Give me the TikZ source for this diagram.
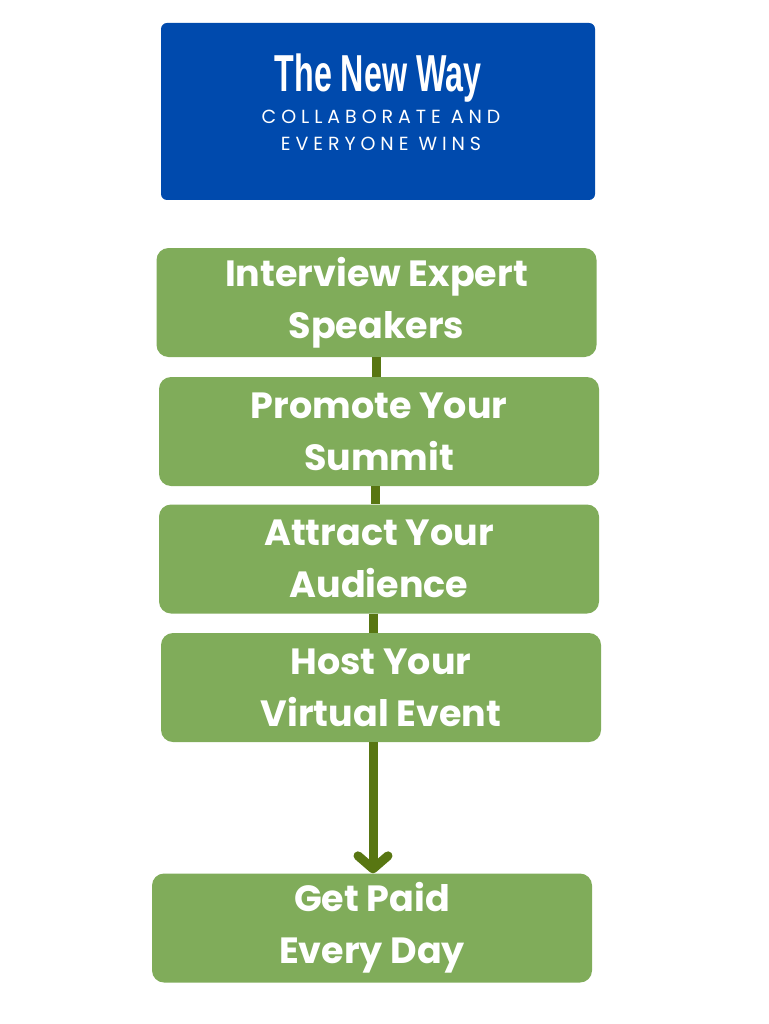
\documentclass[tikz,border=0pt]{standalone}
\usepackage{fontspec}
\setmainfont{Poppins}
\newfontfamily\titlefont{Liberation Sans}
\newfontfamily\subfont{Poppins}[LetterSpace=26]
\usetikzlibrary{arrows.meta}

\definecolor{newblue}{HTML}{004AAD}
\definecolor{stepgreen}{HTML}{80AC5A}
\definecolor{linkgreen}{HTML}{587612}

\tikzset{
  stepbox/.style={fill=stepgreen, rounded corners=12pt, minimum width=440pt, minimum height=109pt,
    text=white, align=center, inner sep=0pt, font=\bfseries\fontsize{36.5}{52}\selectfont},
  motto/.style={anchor=base, text=white, inner sep=0pt, font=\subfont\fontsize{19}{19}\selectfont},
  link/.style={draw=linkgreen, line width=9pt}
}

\begin{document}
\begin{tikzpicture}[x=1pt,y=-1pt]
  \useasboundingbox (0,0) rectangle (768,1024);
  % header
  \node[fill=newblue, rounded corners=6pt, minimum width=434pt, minimum height=177pt, inner sep=0pt] (newway) at (378,111.5) {};
  \node[anchor=base, text=white, inner sep=0pt, font=\titlefont\bfseries\fontsize{52}{52}\selectfont] (title) at (378,92) {\scalebox{0.62}[1]{The New Way}};
  \node[motto] (motto1) at (381,124) {COLLABORATE AND};
  \node[motto] (motto2) at (381,151) {EVERYONE WINS};

  % steps
  \node[stepbox] (interview) at (376.5,302.5) {Interview Expert\\Speakers};
  \node[stepbox] (promote) at (379,431.5) {Promote Your\\Summit};
  \node[stepbox] (attract) at (379,559) {Attract Your\\Audience};
  \node[stepbox] (host) at (381,687.5) {Host Your\\Virtual Event};
  \node[stepbox] (paid) at (372,928) {Get Paid\\Every Day};

  % links
  \draw[link] (interview.south -| 376.5,0) -- (promote.north -| 376.5,0);
  \draw[link] (promote.south -| 375.5,0) -- (attract.north -| 375.5,0);
  \draw[link] (attract.south -| 373,0) -- (host.north -| 373,0);
  \draw[link, -{Straight Barb[round, length=13pt, width=30pt]}] (host.south -| 373,0) -- (paid.north -| 373,0);
\end{tikzpicture}
\end{document}
